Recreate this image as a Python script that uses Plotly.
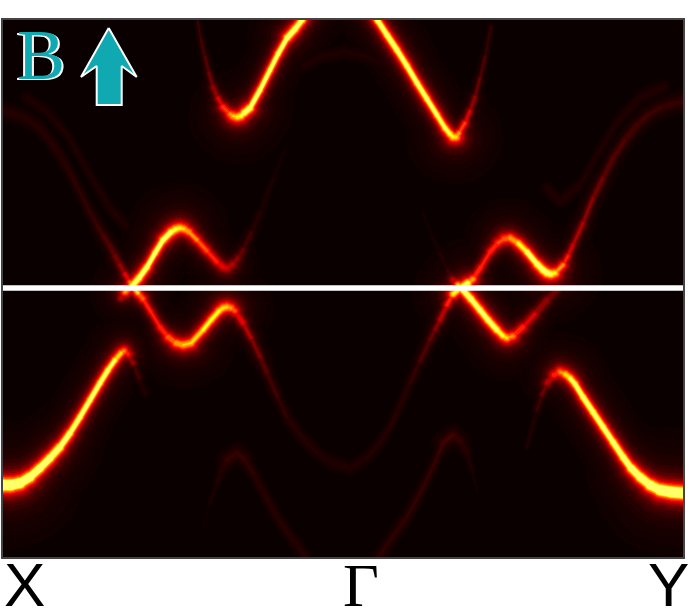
import plotly.graph_objects as go

# momentum along X-Gamma-Y (k) and energy relative to the Fermi level (E)
# weight = how strong the band looks at that point
mid_k = [0, 8, 17, 27, 37, 47, 57, 67, 77, 85, 94, 100, 107, 112, 117, 122, 127, 131, 135, 140, 148, 157, 165, 173,
         180, 188, 200, 208, 216, 220, 224, 228, 232, 240, 248, 257, 264, 274, 284, 294, 304, 317, 330, 347, 364, 376, 387,
         397, 407, 417, 427, 432, 437, 444, 450, 459, 465, 470, 478, 487, 495, 501, 507, 515, 524, 534, 540, 544, 548, 552, 560,
         565, 570, 580, 590, 600, 610, 622, 634, 645, 657, 668, 680]
mid_E = [176, 175, 172, 167, 159, 147, 133, 115, 96, 80, 63, 53, 42, 32, 23, 14, 6, 0, -5, -11, -24, -39, -49, -55,
         -57, -55, -42, -32, -23, -20, -19, -20, -23, -35, -50, -69, -85, -108, -129, -143, -155, -167, -175, -180, -170, -156, -139,
         -118, -95, -73, -52, -42, -32, -17, -6, 1, 5, 9, 21, 36, 45, 49, 50, 45, 36, 24, 18, 15, 14, 15, 23,
         32, 43, 65, 90, 110, 130, 148, 163, 173, 180, 184, 186]
mid_w = [.05, .05, .05, .05, .05, .055, .06, .06, .065, .07, .085, .1, .13, .17, .22, .3, .45, .8, .7, .5, .42, .45, .55, .65,
         .7, .72, .8, .85, .8, .75, .7, .6, .5, .32, .24, .17, .12, .08, .06, .05, .045, .04, .04, .04, .04, .045, .05,
         .055, .065, .09, .14, .18, .25, .4, .6, 1, .8, .55, .45, .45, .5, .55, .6, .75, .9, 1, 1, .95, .85, .75, .5,
         .38, .3, .25, .2, .16, .13, .11, .1, .085, .08, .075, .07]

top_left_k = [195, 198, 202, 206, 210, 215, 220, 227, 230, 234, 238, 241, 247, 257, 267, 275, 284, 292, 299, 309]
top_left_E = [266, 248, 231, 215, 201, 190, 181, 174, 172, 171, 172, 175, 180, 198, 218, 234, 250, 259, 268, 282]
top_left_w = [.08, .1, .12, .16, .22, .3, .42, .6, .68, .75, .82, .9, 1, 1, 1, 1, 1, 1, 1, 1]

top_right_k = [365, 375, 384, 394, 404, 414, 424, 434, 442, 447, 450, 453, 456, 462, 467, 472, 477, 482, 488]
top_right_E = [282, 267, 253, 238, 222, 205, 189, 173, 160, 154, 151, 151, 155, 165, 177, 191, 210, 231, 261]
top_right_w = [1, 1, 1, 1, 1, 1, .95, .95, .9, .85, .8, .72, .62, .4, .3, .2, .14, .1, .06]

arch_k = [300, 320, 342, 362, 382]
arch_E = [222, 232, 236, 232, 222]
arch_w = [.035, .035, .035, .035, .035]

ghost_left_k = [24, 44, 64, 87, 107, 122]
ghost_left_E = [190, 176, 153, 113, 80, 63]
ghost_left_w = [.035, .035, .035, .035, .04, .04]

ghost_right_k = [544, 557, 577, 594, 614, 637, 660]
ghost_right_E = [100, 86, 103, 133, 166, 190, 201]
ghost_right_w = [.04, .04, .04, .04, .04, .04, .04]

upper_left_k = [118, 122, 129, 136, 144, 152, 160, 168, 173, 177, 181, 186, 194, 204, 214, 220, 224, 230, 235, 240, 248, 257, 270, 282]
upper_left_E = [-10, -4, 2, 10, 21, 35, 48, 56, 59, 60, 59, 56, 48, 37, 26, 21, 20, 24, 30, 38, 55, 75, 108, 138]
upper_left_w = [.25, .4, .9, 1, 1, 1, 1, .9, .82, .75, .7, .65, .6, .5, .42, .36, .32, .25, .18, .13, .06, .04, .025, .015]

lower_mid_k = [420, 430, 437, 445, 450, 455, 460, 468, 477, 485, 494, 500, 504, 510, 520, 532, 544, 554, 562]
lower_mid_E = [75, 50, 35, 17, 8, 3, -2, -11, -22, -32, -42, -48, -50, -48, -39, -26, -12, -2, 13]
lower_mid_w = [.015, .02, .03, .06, .12, .5, 1, 1, 1, 1, .9, .8, .7, .55, .42, .3, .22, .14, .06]

low_left_k = [0, 8, 17, 27, 37, 47, 57, 67, 77, 87, 97, 105, 112, 118, 121, 125, 130, 136, 142]
low_left_E = [-197, -197, -195, -189, -180, -170, -159, -145, -129, -112, -95, -82, -72, -65, -63, -66, -75, -90, -105]
low_left_w = [1.4, 1.4, 1.3, 1.25, 1.2, 1.15, 1.1, 1.05, 1, 1, 1, .95, .85, .7, .55, .35, .15, .06, .03]

low_right_k = [680, 668, 657, 647, 637, 628, 620, 610, 600, 590, 580, 572, 567, 562, 557, 551, 544, 539, 534, 524]
low_right_E = [-205, -204, -202, -197, -189, -180, -169, -154, -139, -124, -109, -96, -90, -86, -84, -87, -95, -107, -122, -159]
low_right_w = [1.4, 1.4, 1.3, 1.25, 1.2, 1.15, 1.1, 1.05, 1, 1, 1, .95, .85, .7, .55, .4, .22, .12, .06, .02]

bump_left_k = [200, 207, 214, 219, 224, 234, 242, 250, 262, 274, 287, 300, 307]
bump_left_E = [-239, -215, -195, -182, -172, -165, -172, -185, -207, -229, -248, -265, -277]
bump_left_w = [.01, .02, .035, .05, .07, .08, .07, .06, .06, .055, .05, .05, .05]

bump_right_k = [372, 377, 390, 404, 416, 427, 435, 440, 450, 457, 464, 469, 474]
bump_right_E = [-277, -267, -248, -229, -207, -185, -167, -155, -147, -153, -165, -182, -202]
bump_right_w = [.06, .06, .065, .065, .07, .07, .08, .09, .09, .07, .05, .03, .015]

bands = [
    (mid_k, mid_E, mid_w),
    (top_left_k, top_left_E, top_left_w),
    (top_right_k, top_right_E, top_right_w),
    (arch_k, arch_E, arch_w),
    (ghost_left_k, ghost_left_E, ghost_left_w),
    (ghost_right_k, ghost_right_E, ghost_right_w),
    (upper_left_k, upper_left_E, upper_left_w),
    (lower_mid_k, lower_mid_E, lower_mid_w),
    (low_left_k, low_left_E, low_left_w),
    (low_right_k, low_right_E, low_right_w),
    (bump_left_k, bump_left_E, bump_left_w),
    (bump_right_k, bump_right_E, bump_right_w),
]

arrow_k = [105.7, 78, 93.7, 93.7, 118.7, 118.7, 133.7, 105.7]
arrow_E = [260, 211, 222, 183, 183, 222, 211, 260]

labels = ["X", "Γ", "Y"]
label_k = [21, 358, 665]

levels = [.01, .015, .02, .03, .04, .06, .08, .11, .15, .2, .26, .33, .41, .5, .6, .7, .78, .85]
gamma = 5.5


def hot(v):
    # matplotlib style hot colormap
    r = min(v / .365, 1)
    g = max(min((v - .365) / .381, 1), 0)
    b = max(min((v - .746) / .254, 1), 0)
    return f"rgb({int(10 + 245 * r)},{int(255 * g)},{int(255 * b)})"


fig = go.Figure()

# each level is a contour of the band's glow, widest and darkest first
for v in levels:
    buckets = {}
    for ks, Es, ws in bands:
        for i in range(len(ks) - 1):
            w = (ws[i] + ws[i + 1]) / 2
            if w <= v:
                continue
            # broadening is in energy, so steep parts look thinner
            slope = (Es[i + 1] - Es[i]) / (ks[i + 1] - ks[i])
            g = gamma / (1 + slope ** 2) ** .35
            width = round(4 * g * (w / v - 1) ** .5) / 2
            if width <= 0:
                continue
            xs, ys = buckets.setdefault(width, ([], []))
            xs.extend(ks[i:i + 2] + [None])
            ys.extend(Es[i:i + 2] + [None])
    for width in sorted(buckets, reverse=True):
        xs, ys = buckets[width]
        # markers round off the joints between segments
        fig.add_trace(go.Scatter(x=xs, y=ys, mode="lines+markers", hoverinfo="skip",
                                 line=dict(color=hot(v), width=width),
                                 marker=dict(color=hot(v), size=width, line=dict(width=0))))

# Fermi level
fig.add_trace(go.Scatter(x=[0, 680], y=[0, 0], mode="lines", hoverinfo="skip",
                         line=dict(color="white", width=5.5)))

# field direction
fig.add_trace(go.Scatter(x=arrow_k, y=arrow_E, mode="lines", fill="toself", fillcolor="#10a9b1",
                         hoverinfo="skip", line=dict(color="white", width=2)))

fig.add_annotation(x=38, y=233, text="B", showarrow=False,
                   font=dict(family="Liberation Serif", size=72, color="#10a9b1",
                             shadow="-2px 1px 0 white, 2px 1px 0 white"))

for lab, k in zip(labels, label_k):
    fam = "Liberation Serif" if lab == "Γ" else "Liberation Sans"
    fig.add_annotation(x=k, yref="paper", y=-0.052, text=lab, showarrow=False, yanchor="middle", xanchor="center",
                       font=dict(family=fam, size=62, color="black"))

fig.update_layout(
    width=693,
    height=610,
    margin=dict(l=3, r=10, t=20, b=53),
    paper_bgcolor="white",
    plot_bgcolor="#0a0000",
    showlegend=False,
)
fig.update_xaxes(range=[0, 680], showgrid=False, zeroline=False, showticklabels=False, ticks="",
                 showline=True, mirror=True, linecolor="#444444", linewidth=2)
fig.update_yaxes(range=[-269, 268], showgrid=False, zeroline=False, showticklabels=False, ticks="",
                 showline=True, mirror=True, linecolor="#444444", linewidth=2)

fig.write_html("out.html", config={"displayModeBar": False}, post_script="document.body.style.margin='0';")
